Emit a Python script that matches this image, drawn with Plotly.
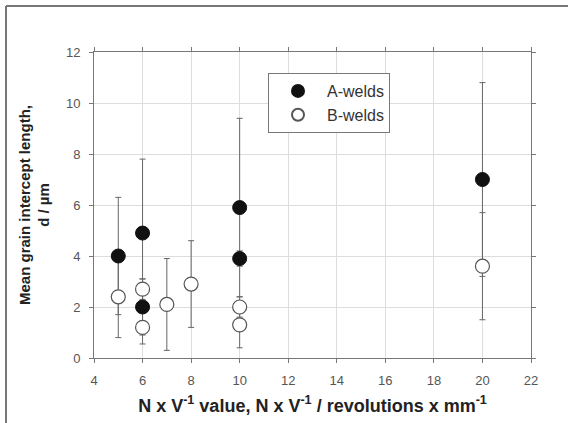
import plotly.graph_objects as go

# A-welds (filled circles)
a_x = [5, 6, 6, 10, 10, 20]
a_y = [4.0, 4.9, 2.0, 5.9, 3.9, 7.0]
a_err = [2.3, 2.9, 1.1, 3.5, 0.3, 3.8]

# B-welds (open circles)
b_x = [5, 6, 6, 7, 8, 10, 10, 20]
b_y = [2.4, 2.7, 1.2, 2.1, 2.9, 2.0, 1.3, 3.6]
b_err = [1.6, 0.4, 0.65, 1.8, 1.7, 0.4, 0.9, 2.1]

x_ticks = [4, 6, 8, 10, 12, 14, 16, 18, 20, 22]
y_ticks = [0, 2, 4, 6, 8, 10, 12]

FONT = "Liberation Sans, Arial, sans-serif"
ERR = dict(type="data", symmetric=True, color="#666666", thickness=1, width=3)

fig = go.Figure()
# error bars first (beneath all markers)
for xs, ys, es in [(b_x, b_y, b_err), (a_x, a_y, a_err)]:
    fig.add_trace(go.Scatter(x=xs, y=ys, mode="markers", showlegend=False,
                             hoverinfo="skip",
                             marker=dict(size=1, opacity=0),
                             error_y=dict(array=es, **ERR)))
fig.add_trace(go.Scatter(x=a_x, y=a_y, mode="markers", name="A-welds",
                         legendrank=1,
                         marker=dict(symbol="circle", size=14, color="#111111",
                                     line=dict(color="#111111", width=1))))
fig.add_trace(go.Scatter(x=b_x, y=b_y, mode="markers", name="B-welds",
                         legendrank=2,
                         marker=dict(symbol="circle", size=14, color="white",
                                     line=dict(color="#555555", width=1.2))))

axis_common = dict(showgrid=True, gridcolor="#dddddd", gridwidth=1,
                   showline=True, linecolor="#777777", linewidth=1,
                   mirror="ticks", ticks="outside", ticklen=4, tickcolor="#777777",
                   zeroline=False, tickfont=dict(family=FONT, size=13, color="#555555"))

fig.update_xaxes(range=[4, 22], tickvals=x_ticks, ticktext=[str(v) for v in x_ticks],
                 ticklabelstandoff=6,
                 title=dict(text="<b>N x V<sup>-1</sup> value, N x V<sup>-1</sup> / revolutions x mm<sup>-1</sup></b>",
                            font=dict(family=FONT, size=18, color="#222222"), standoff=12),
                 **axis_common)
fig.update_yaxes(range=[0, 12], tickvals=y_ticks, ticktext=[str(v) for v in y_ticks],
                 ticklabelstandoff=6,
                 title=dict(text="<b>Mean grain intercept length,</b><br><b>d / µm</b>",
                            font=dict(family=FONT, size=15, color="#222222"), standoff=12),
                 **axis_common)

W, H = 568, 423
L, R, T, B = 94, 37, 52, 65
pw, ph = W - L - R, H - T - B

def px(xp):
    return (xp - L) / pw

def py(yp):
    return (H - B - yp) / ph

# outer frame (left and top edges of the cropped figure border)
fig.add_shape(type="line", xref="paper", yref="paper", x0=px(6), x1=px(6), y0=py(6), y1=py(430),
              line=dict(color="#777777", width=2))
fig.add_shape(type="line", xref="paper", yref="paper", x0=px(6), x1=px(580), y0=py(6), y1=py(6),
              line=dict(color="#777777", width=2))

fig.update_layout(
    width=W, height=H,
    margin=dict(l=L, r=R, t=T, b=B, pad=0),
    paper_bgcolor="white", plot_bgcolor="white",
    font=dict(family=FONT, color="#222222"),
    legend=dict(x=px(268), y=py(73), xanchor="left", yanchor="top",
                bgcolor="white", bordercolor="#777777", borderwidth=1,
                font=dict(family=FONT, size=16, color="#333333"),
                itemwidth=48, itemsizing="constant"),
)

fig.write_html("out.html")
